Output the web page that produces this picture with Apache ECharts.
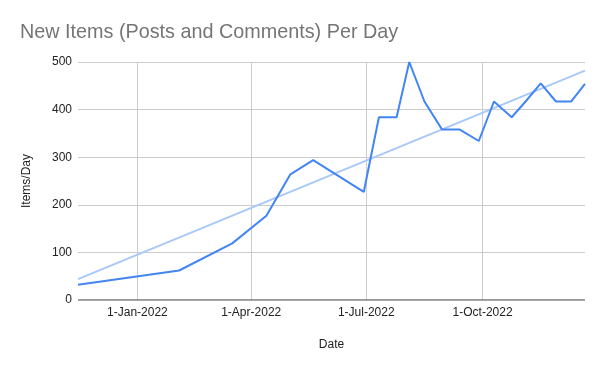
<!DOCTYPE html>
<html><head><meta charset="utf-8">
<script src="https://cdn.jsdelivr.net/npm/echarts@6/dist/echarts.min.js"></script>
<style>html,body{margin:0;padding:0;background:#fff}#c{width:600px;height:371px}</style>
</head><body><div id="c"></div>
<script>
const dates = ['2021-11-15','2022-02-03','2022-03-17','2022-04-13','2022-05-02','2022-05-20','2022-06-29','2022-07-11','2022-07-25','2022-08-04','2022-08-16','2022-08-30','2022-09-13','2022-09-28','2022-10-10','2022-10-24','2022-11-04','2022-11-16','2022-11-28','2022-12-10','2022-12-21'];
const items = [32,62,119,177,264,294,227,384,384,500,417,358,358,334,417,384,417,455,417,417,454];
const trendDates = ['2021-11-15','2022-12-21'];
const trendValues = [44,482];
const tickDates = ['2022-01-01','2022-04-01','2022-07-01','2022-10-01'];
const yTicks = [0,100,200,300,400,500];
const months = ['Jan','Feb','Mar','Apr','May','Jun','Jul','Aug','Sep','Oct','Nov','Dec'];

const toTs = s => { const [y,m,d] = s.split('-').map(Number); return Date.UTC(y, m-1, d); };
const chart = echarts.init(document.getElementById('c'), null, {renderer:'canvas'});
const FF = '"Liberation Sans", Arial, sans-serif';
chart.setOption({
  animation:false,
  backgroundColor:'#fff',
  title:{text:'New Items (Posts and Comments) Per Day', left:15, top:18,
    textStyle:{fontFamily:FF, fontSize:19.8, fontWeight:'normal', color:'#757575'}},
  grid:{left:78, right:15, top:62, bottom:71},
  xAxis:{type:'value', min:toTs(dates[0]), max:toTs(dates[dates.length-1]),
    name:'Date', nameLocation:'middle', nameGap:39,
    nameTextStyle:{fontFamily:FF, fontSize:12, color:'#222'},
    axisLine:{show:false}, axisTick:{show:false, customValues:tickDates.map(toTs)},
    splitLine:{show:true, lineStyle:{color:'#cccccc', width:1}},
    axisLabel:{customValues:tickDates.map(toTs), margin:7, fontFamily:FF, fontSize:12, color:'#222',
      formatter:v=>{const d=new Date(v);return d.getUTCDate()+'-'+months[d.getUTCMonth()]+'-'+d.getUTCFullYear();}}
  },
  yAxis:{type:'value', min:yTicks[0], max:yTicks[yTicks.length-1], interval:100,
    name:'Items/Day', nameLocation:'middle', nameGap:45, nameRotate:90,
    nameTextStyle:{fontFamily:FF, fontSize:12, color:'#222'},
    axisLine:{show:false}, axisTick:{show:false},
    splitLine:{lineStyle:{color:'#cccccc', width:1}},
    axisLabel:{margin:6, fontFamily:FF, fontSize:12, color:'#222'}
  },
  series:[
    {type:'line', data:trendDates.map((d,i)=>[toTs(d),trendValues[i]]), symbol:'none',
      lineStyle:{color:'#a9c8fa', width:2}, z:2},
    {type:'line', data:dates.map((d,i)=>[toTs(d),items[i]]), symbol:'none',
      lineStyle:{color:'#4285f4', width:2}, z:3},
    {type:'line', data:[[toTs(dates[0]),0],[toTs(dates[dates.length-1]),0]], symbol:'none',
      lineStyle:{color:'#333333', width:1}, z:1, silent:true}
  ]
});
</script></body></html>
